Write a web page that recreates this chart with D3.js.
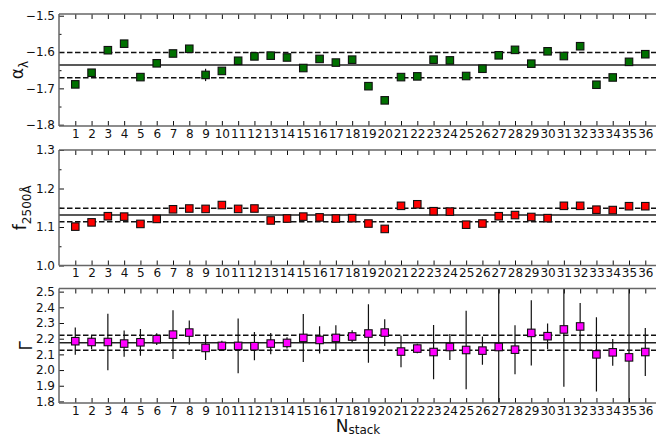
<!DOCTYPE html>
<html>
<head>
<meta charset="utf-8">
<script src="https://cdn.jsdelivr.net/npm/d3@7"></script>
<style>
  body { margin: 0; background: #fff; }
  svg { display: block; font-family: "DejaVu Sans", sans-serif; }
</style>
</head>
<body>
<div id="chart"></div>
<script>
// stack index on the x axis
const nstack = [1, 2, 3, 4, 5, 6, 7, 8, 9, 10, 11, 12, 13, 14, 15, 16, 17, 18,
                19, 20, 21, 22, 23, 24, 25, 26, 27, 28, 29, 30, 31, 32, 33, 34, 35, 36];

// alpha_lambda
const alpha = [-1.689, -1.657, -1.595, -1.577, -1.669, -1.631, -1.604, -1.591, -1.663, -1.652,
               -1.624, -1.612, -1.610, -1.615, -1.644, -1.619, -1.629, -1.621, -1.694, -1.733,
               -1.669, -1.667, -1.621, -1.623, -1.666, -1.646, -1.609, -1.594, -1.632, -1.598,
               -1.611, -1.584, -1.690, -1.670, -1.627, -1.606];
const alphaErr = [0.006, 0.006, 0.006, 0.006, 0.006, 0.006, 0.006, 0.006, 0.017, 0.006,
                  0.006, 0.006, 0.006, 0.006, 0.006, 0.006, 0.006, 0.006, 0.006, 0.006,
                  0.006, 0.006, 0.006, 0.006, 0.006, 0.006, 0.006, 0.006, 0.006, 0.006,
                  0.006, 0.006, 0.006, 0.006, 0.006, 0.006];
const alphaMean = -1.636, alphaSig = 0.035;

// f_2500A
const f2500 = [1.101, 1.112, 1.128, 1.127, 1.108, 1.121, 1.146, 1.148, 1.147, 1.157,
               1.147, 1.148, 1.117, 1.122, 1.127, 1.125, 1.122, 1.123, 1.109, 1.095,
               1.155, 1.159, 1.141, 1.140, 1.106, 1.109, 1.128, 1.131, 1.126, 1.123,
               1.155, 1.155, 1.145, 1.144, 1.154, 1.154];
const f2500Err = [0.004, 0.004, 0.004, 0.004, 0.004, 0.004, 0.004, 0.004, 0.004, 0.004,
                  0.004, 0.004, 0.004, 0.004, 0.004, 0.004, 0.004, 0.004, 0.004, 0.004,
                  0.004, 0.004, 0.004, 0.004, 0.004, 0.004, 0.004, 0.004, 0.004, 0.004,
                  0.004, 0.004, 0.004, 0.004, 0.004, 0.004];
const f2500Mean = 1.131, f2500Sig = 0.0175;

// Gamma
const gamma = [2.184, 2.179, 2.179, 2.169, 2.177, 2.197, 2.226, 2.239, 2.141, 2.154,
               2.154, 2.152, 2.169, 2.173, 2.205, 2.192, 2.205, 2.214, 2.233, 2.239,
               2.118, 2.137, 2.115, 2.147, 2.128, 2.124, 2.147, 2.130, 2.237, 2.216,
               2.259, 2.278, 2.100, 2.113, 2.081, 2.115];
const gammaErr = [0.087, 0.045, 0.180, 0.084, 0.085, 0.037, 0.155, 0.077, 0.077, 0.033,
                  0.174, 0.090, 0.068, 0.036, 0.153, 0.087, 0.080, 0.040, 0.187, 0.085,
                  0.100, 0.030, 0.173, 0.083, 0.250, 0.090, 0.500, 0.156, 0.208, 0.081,
                  0.366, 0.150, 0.236, 0.085, 0.500, 0.153];
const gammaMean = 2.174, gammaSig = 0.048;

// axis ticks
const alphaTicks = [-1.5, -1.6, -1.7, -1.8];
const alphaMinor = [-1.55, -1.65, -1.75];
const f2500Ticks = [1.0, 1.1, 1.2, 1.3];
const f2500Minor = [1.05, 1.15, 1.25];
const gammaTicks = [1.8, 1.9, 2.0, 2.1, 2.2, 2.3, 2.4, 2.5];

const W = 656, H = 437;
const left = 59;

const svg = d3.select('#chart').append('svg')
    .attr('width', W)
    .attr('height', H);

const x = d3.scaleLinear().domain([0, 37]).range([left, left + 37 * 16.286]);

function fmt(v) {
    return v.toFixed(1).replace('-', '\u2212');
}

function drawPanel(id, cfg) {
    const y = d3.scaleLinear().domain(cfg.domain).range([cfg.bottom, cfg.top]);
    const g = svg.append('g');

    g.append('clipPath').attr('id', 'clip' + id)
      .append('rect')
      .attr('x', left).attr('y', cfg.top)
      .attr('width', W - left).attr('height', cfg.bottom - cfg.top);

    const plot = g.append('g').attr('clip-path', 'url(#clip' + id + ')');

    // mean and +-1 sigma lines
    plot.append('line')
        .attr('x1', left).attr('x2', W)
        .attr('y1', y(cfg.mean)).attr('y2', y(cfg.mean))
        .attr('stroke', '#222').attr('stroke-width', 1.5);
    [cfg.mean + cfg.sig, cfg.mean - cfg.sig].forEach(function(v) {
        plot.append('line')
            .attr('x1', left).attr('x2', W)
            .attr('y1', y(v)).attr('y2', y(v))
            .attr('stroke', '#111').attr('stroke-width', 1.5)
            .attr('stroke-dasharray', '5.5,2.5');
    });

    // error bars
    plot.selectAll('.err')
        .data(nstack)
        .enter()
        .append('line')
        .attr('x1', function(d) {return x(d);})
        .attr('x2', function(d) {return x(d);})
        .attr('y1', function(d, i) {return y(cfg.values[i] + cfg.errors[i]);})
        .attr('y2', function(d, i) {return y(cfg.values[i] - cfg.errors[i]);})
        .attr('stroke', '#111')
        .attr('stroke-width', 1.2);

    // markers
    const s = 7.5;
    plot.selectAll('.pt')
        .data(nstack)
        .enter()
        .append('rect')
        .attr('x', function(d) {return x(d) - s / 2;})
        .attr('y', function(d, i) {return y(cfg.values[i]) - s / 2;})
        .attr('width', s)
        .attr('height', s)
        .attr('fill', cfg.color)
        .attr('stroke', '#111')
        .attr('stroke-width', 1.1);

    // x ticks, bottom (inward) and top (inward)
    g.append('g')
     .attr('transform', 'translate(0,' + cfg.bottom + ')')
     .call(d3.axisBottom(x).tickValues(nstack).tickSize(-5).tickPadding(3)
             .tickFormat(function(d) {return String(d);}))
     .call(function(a) {
        a.select('.domain').remove();
        a.selectAll('line').attr('stroke', '#111');
        a.selectAll('text').attr('font-size', 12).attr('fill', '#111')
         .attr('font-family', '"DejaVu Sans", sans-serif');
     });
    g.append('g')
     .attr('transform', 'translate(0,' + cfg.top + ')')
     .call(d3.axisTop(x).tickValues(nstack).tickSize(-5).tickFormat(''))
     .call(function(a) {
        a.select('.domain').remove();
        a.selectAll('line').attr('stroke', '#111');
     });

    // y ticks
    g.append('g')
     .attr('transform', 'translate(' + left + ',0)')
     .call(d3.axisLeft(y).tickValues(cfg.ticks).tickSize(-5).tickPadding(4)
             .tickFormat(fmt))
     .call(function(a) {
        a.select('.domain').remove();
        a.selectAll('line').attr('stroke', '#111');
        a.selectAll('text').attr('font-size', 12).attr('fill', '#111')
         .attr('font-family', '"DejaVu Sans", sans-serif');
     });
    if (cfg.minor) {
        g.append('g')
         .attr('transform', 'translate(' + left + ',0)')
         .call(d3.axisLeft(y).tickValues(cfg.minor).tickSize(-2.5).tickFormat(''))
         .call(function(a) {
            a.select('.domain').remove();
            a.selectAll('line').attr('stroke', '#111');
         });
    }

    // spines (right one is off the page)
    const sp = g.append('g').attr('stroke', '#666').attr('stroke-width', 1.5);
    sp.append('line').attr('x1', left).attr('x2', W).attr('y1', cfg.top).attr('y2', cfg.top);
    sp.append('line').attr('x1', left).attr('x2', W).attr('y1', cfg.bottom).attr('y2', cfg.bottom);
    sp.append('line').attr('x1', left).attr('x2', left).attr('y1', cfg.top).attr('y2', cfg.bottom);

    // y label
    const lab = g.append('text')
        .attr('transform', 'translate(' + cfg.labelX + ',' + ((cfg.top + cfg.bottom) / 2) + ') rotate(-90)')
        .attr('text-anchor', 'middle')
        .attr('font-size', 17)
        .attr('fill', '#111');
    lab.append('tspan').text(cfg.label);
    if (cfg.sub) {
        lab.append('tspan').attr('font-size', 12).attr('dy', 5).text(cfg.sub);
    }
}

drawPanel(1, {
    top: 14, bottom: 126, domain: [-1.8036, -1.4953],
    values: alpha, errors: alphaErr, mean: alphaMean, sig: alphaSig,
    color: '#007000', ticks: alphaTicks, minor: alphaMinor,
    label: '\u03b1', sub: '\u03bb', labelX: 23
});

drawPanel(2, {
    top: 150, bottom: 265.5, domain: [1.0, 1.3],
    values: f2500, errors: f2500Err, mean: f2500Mean, sig: f2500Sig,
    color: '#ff0000', ticks: f2500Ticks, minor: f2500Minor,
    label: 'f', sub: '2500\u00c5', labelX: 26
});

drawPanel(3, {
    top: 288.5, bottom: 403, domain: [1.79, 2.52],
    values: gamma, errors: gammaErr, mean: gammaMean, sig: gammaSig,
    color: '#ff00ff', ticks: gammaTicks, minor: null,
    label: '\u0393', sub: null, labelX: 32
});

// x label
const xl = svg.append('text')
    .attr('x', 358)
    .attr('y', 432)
    .attr('text-anchor', 'middle')
    .attr('font-size', 17)
    .attr('fill', '#111');
xl.append('tspan').text('N');
xl.append('tspan').attr('font-size', 12).attr('dy', 1.5).text('stack');
</script>
</body>
</html>
